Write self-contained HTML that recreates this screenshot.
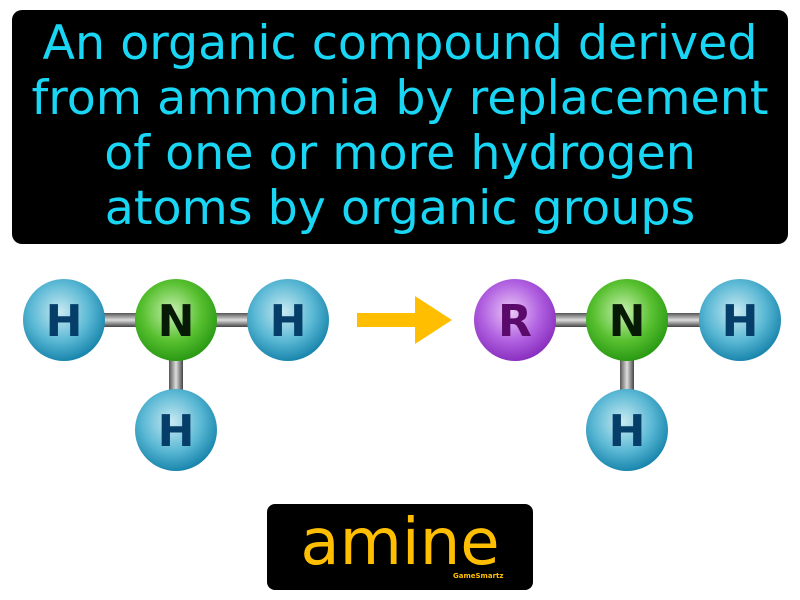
<!DOCTYPE html>
<html><head><style>
body{margin:0;width:800px;height:600px;background:#fff;overflow:hidden;font-family:"DejaVu Sans","Liberation Sans",sans-serif}
.top{position:absolute;left:12px;top:10px;width:776px;height:234px;background:#000;border-radius:10px;color:#1ad6f5;font-size:47.5px;line-height:55px;text-align:center;padding-top:6px;box-sizing:border-box;white-space:nowrap}
.bot{position:absolute;left:267px;top:504px;width:266px;height:86px;background:#000;border-radius:8px;color:#ffbf00;text-align:center}
</style></head><body>
<div class="top">An organic compound derived<br>from ammonia by replacement<br>of one or more hydrogen<br>atoms by organic groups</div>
<svg style="position:absolute;left:0;top:0" width="800" height="600">
<defs>
<radialGradient id="b" cx="0.45" cy="0.4" r="0.6"><stop offset="0" stop-color="#c8eaf2"/><stop offset="0.6" stop-color="#5ab8d4"/><stop offset="1" stop-color="#1a86ad"/></radialGradient>
<radialGradient id="g" cx="0.45" cy="0.4" r="0.6"><stop offset="0" stop-color="#c8f0b0"/><stop offset="0.6" stop-color="#58c030"/><stop offset="1" stop-color="#2a9a14"/></radialGradient>
<radialGradient id="p" cx="0.45" cy="0.4" r="0.6"><stop offset="0" stop-color="#ecc8f8"/><stop offset="0.6" stop-color="#b060e0"/><stop offset="1" stop-color="#8a30c0"/></radialGradient>
<linearGradient id="bh" x1="0" y1="0" x2="0" y2="1"><stop offset="0" stop-color="#555"/><stop offset="0.5" stop-color="#ddd"/><stop offset="1" stop-color="#444"/></linearGradient>
<linearGradient id="bv" x1="0" y1="0" x2="1" y2="0"><stop offset="0" stop-color="#555"/><stop offset="0.5" stop-color="#ddd"/><stop offset="1" stop-color="#444"/></linearGradient>
</defs>
<g font-family="DejaVu Sans,sans-serif" font-weight="bold" font-size="44" text-anchor="middle">
<rect x="100" y="313" width="160" height="14" fill="url(#bh)"/>
<rect x="169" y="350" width="14" height="50" fill="url(#bv)"/>
<rect x="550" y="313" width="160" height="14" fill="url(#bh)"/>
<rect x="620" y="350" width="14" height="50" fill="url(#bv)"/>
<circle cx="64" cy="320" r="41" fill="url(#b)"/><text x="64" y="336" fill="#063e6a">H</text>
<circle cx="176" cy="320" r="41" fill="url(#g)"/><text x="176" y="336" fill="#061a06">N</text>
<circle cx="288" cy="320" r="41" fill="url(#b)"/><text x="288" y="336" fill="#063e6a">H</text>
<circle cx="176" cy="430" r="41" fill="url(#b)"/><text x="176" y="446" fill="#063e6a">H</text>
<circle cx="515" cy="320" r="41" fill="url(#p)"/><text x="515" y="336" fill="#5a0a6a">R</text>
<circle cx="627" cy="320" r="41" fill="url(#g)"/><text x="627" y="336" fill="#061a06">N</text>
<circle cx="740" cy="320" r="41" fill="url(#b)"/><text x="740" y="336" fill="#063e6a">H</text>
<circle cx="627" cy="430" r="41" fill="url(#b)"/><text x="627" y="446" fill="#063e6a">H</text>
</g>
<path d="M357 313 H415 V296 L452 320 L415 344 V327 H357 Z" fill="#ffbf00"/>
</svg>
<div class="bot"><div style="font-size:64px;line-height:78px">amine</div><div style="position:absolute;left:186px;top:68px;font-size:7px;font-weight:bold">GameSmartz</div></div>
</body></html>
